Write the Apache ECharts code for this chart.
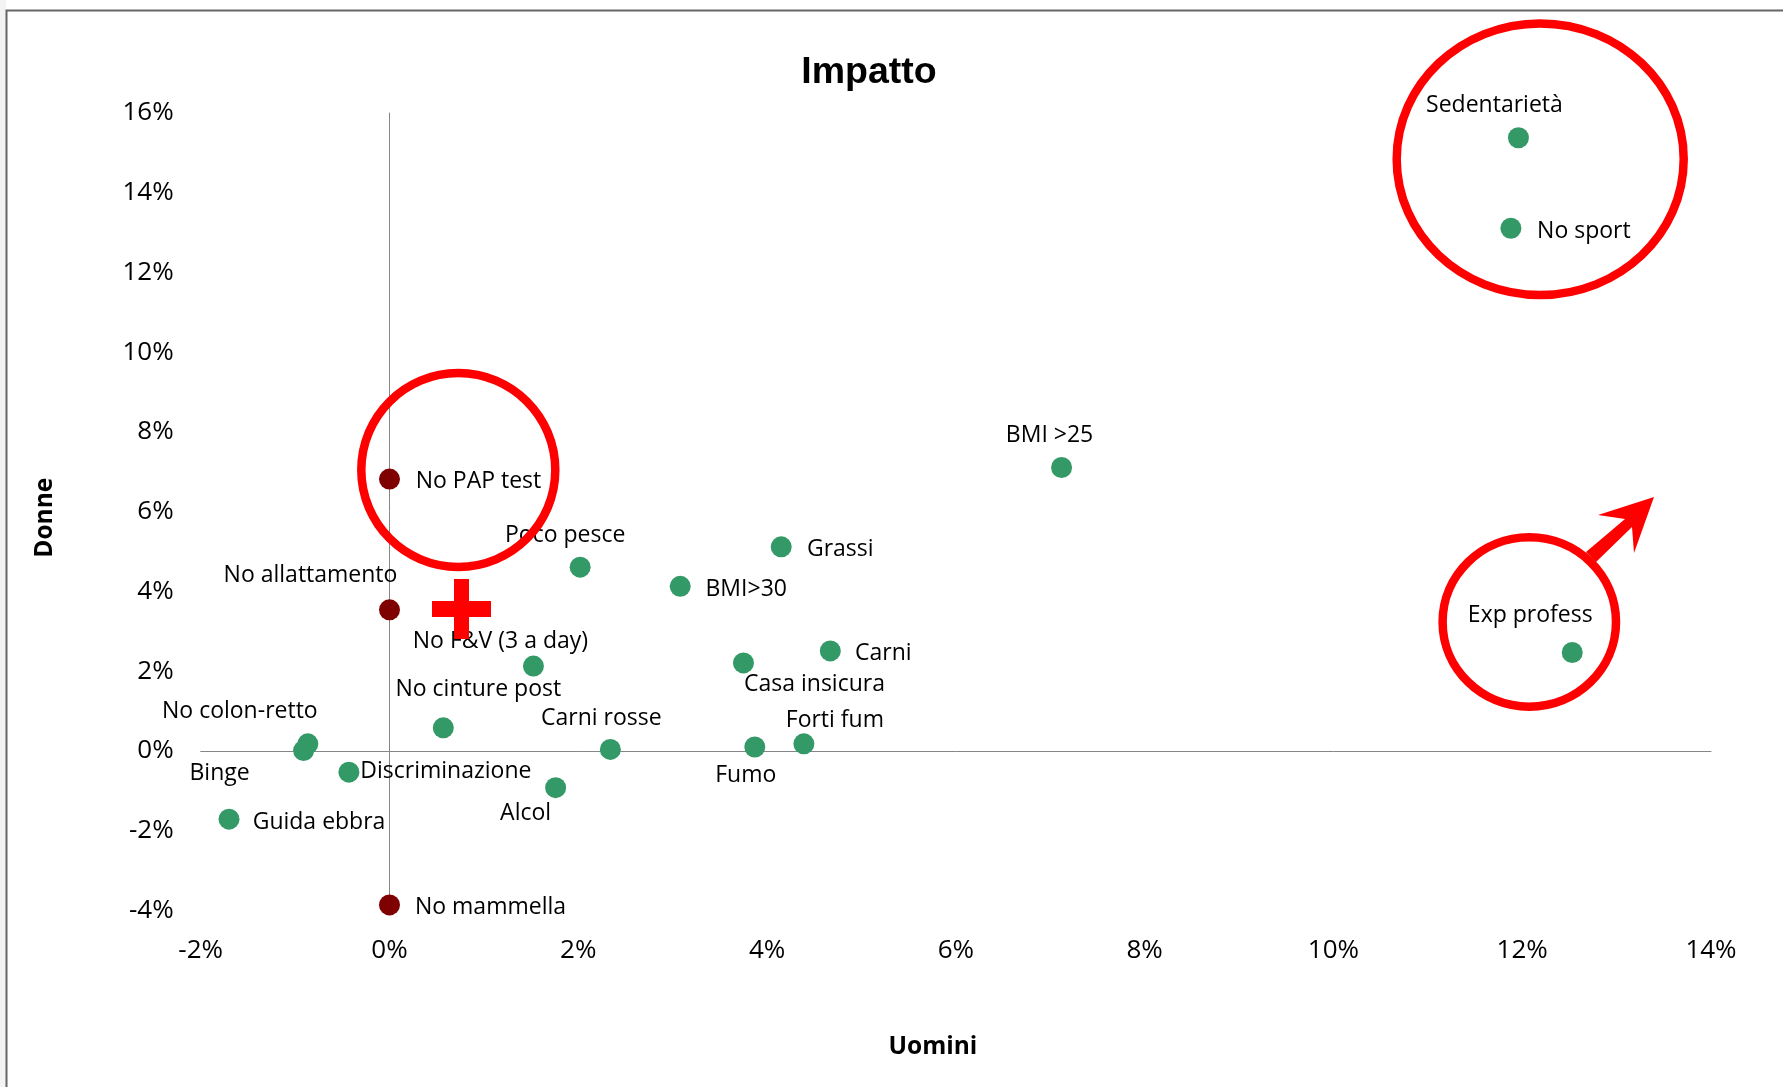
<!DOCTYPE html>
<html><head><meta charset="utf-8">
<style>html,body{margin:0;padding:0;background:#fff}#c{width:1783px;height:1087px}</style>
<script src="https://cdn.jsdelivr.net/npm/echarts@6/dist/echarts.min.js"></script>
</head><body><div id="c"></div>
<script>
const greenNames = ['Sedentarietà','No sport','BMI >25','Grassi','BMI>30','Poco pesce','No F&V (3 a day)','Carni','Casa insicura','Exp profess','No cinture post','Carni rosse','Fumo','Forti fum','No colon-retto','Binge','Discriminazione','Alcol','Guida ebbra'];
const greenX = [11.96,11.88,7.12,4.15,3.08,2.02,1.525,4.67,3.75,12.53,0.57,2.34,3.87,4.39,-0.865,-0.91,-0.43,1.76,-1.7];
const greenY = [15.38,13.11,7.11,5.12,4.13,4.61,2.13,2.51,2.21,2.47,0.58,0.04,0.1,0.18,0.18,0.01,-0.53,-0.92,-1.71];
const redNames = ['No PAP test','No allattamento','No mammella'];
const redX = [0,0,0];
const redY = [6.82,3.54,-3.86];
const labelOffsets = {
 'Sedentarietà':[-24,-32],'No sport':[73,3],'BMI >25':[-12,-32],'Grassi':[59,3],'BMI>30':[66,3],
 'Poco pesce':[-15,-32],'No F&V (3 a day)':[-33,-25],'Carni':[53,3],'Casa insicura':[71,22],'Exp profess':[-42,-37],
 'No cinture post':[35,-38],'Carni rosse':[-9,-31],'Fumo':[-9,28],'Forti fum':[31,-23],'No colon-retto':[-68,-32],
 'Binge':[-84,23],'Discriminazione':[97,-1],'Alcol':[-30,26],'Guida ebbra':[90,3],
 'No PAP test':[89,2],'No allattamento':[-79,-34],'No mammella':[101,3]
};
function series(names,xs,ys,color){
  return {type:'scatter',symbol:'circle',symbolSize:21,
    itemStyle:{color:color,opacity:1},
    data:names.map((n,i)=>({name:n,value:[xs[i],ys[i]],
      label:{show:true,position:'inside',offset:labelOffsets[n],formatter:n,color:'#000',fontSize:23,fontFamily:'"Open Sans"',width:400}})),
    z:3};
}
const ring=(cx,cy,rx,ry)=>({type:'ellipse',shape:{cx,cy,rx,ry},style:{fill:'none',stroke:'#ff0000',lineWidth:8.5},z:20});
const poly=(points)=>({type:'polygon',shape:{points},style:{fill:'#ff0000'},z:20});
const chart=echarts.init(document.getElementById('c'));
chart.setOption({
  backgroundColor:'#fff',animation:false,
  title:{text:'Impatto',left:864,top:49,textAlign:'center',textStyle:{fontSize:37.5,fontWeight:'bold',color:'#000',fontFamily:'"Liberation Sans"'}},
  grid:{left:200.7,right:72,top:113,bottom:176.5,containLabel:false},
  xAxis:{type:'value',min:-2,max:14,interval:2,name:'Uomini',nameLocation:'middle',nameGap:124,nameMoveOverlap:false,
    nameTextStyle:{fontSize:24.5,fontWeight:'bold',color:'#000',fontFamily:'"Open Sans"',padding:[0,46,0,0]},
    axisLine:{onZero:true,lineStyle:{color:'#868686',width:1}},axisTick:{show:false},splitLine:{show:false},
    axisLabel:{formatter:'{value}%',fontSize:26,color:'#000',fontFamily:'"Open Sans"',margin:27}},
  yAxis:{type:'value',min:-4,max:16,interval:2,name:'Donne',nameLocation:'middle',nameGap:143,nameMoveOverlap:false,
    nameTextStyle:{fontSize:24.5,fontWeight:'bold',color:'#000',fontFamily:'"Open Sans"',padding:[0,12,0,0]},
    axisLine:{onZero:true,lineStyle:{color:'#868686',width:1}},axisTick:{show:false},splitLine:{show:false},
    axisLabel:{formatter:'{value}%',fontSize:26,color:'#000',fontFamily:'"Open Sans"',margin:27,padding:[5,0,0,0]}},
  series:[series(greenNames,greenX,greenY,'#339966'),series(redNames,redX,redY,'#7f0000')],
  graphic:[
    {type:'rect',shape:{x:0,y:0,width:6,height:1087},style:{fill:'#f3f3f3'},z:0},
    {type:'rect',shape:{x:6.5,y:10.5,width:1800,height:1100},style:{fill:'none',stroke:'#666',lineWidth:2},z:1},
    ring(458.3,470,97,97),
    poly([[454,579],[469,579],[469,601],[491,601],[491,617],[469,617],[469,639],[454,639],[454,617],[432,617],[432,601],[454,601]]),
    ring(1540.2,159.2,143.5,135.8),
    ring(1529.3,622,86.7,84.7),
    poly([[1586,552],[1625,519],[1598,515],[1654,497],[1634,553],[1632,527],[1596,562]])
  ]
});
</script></body></html>
